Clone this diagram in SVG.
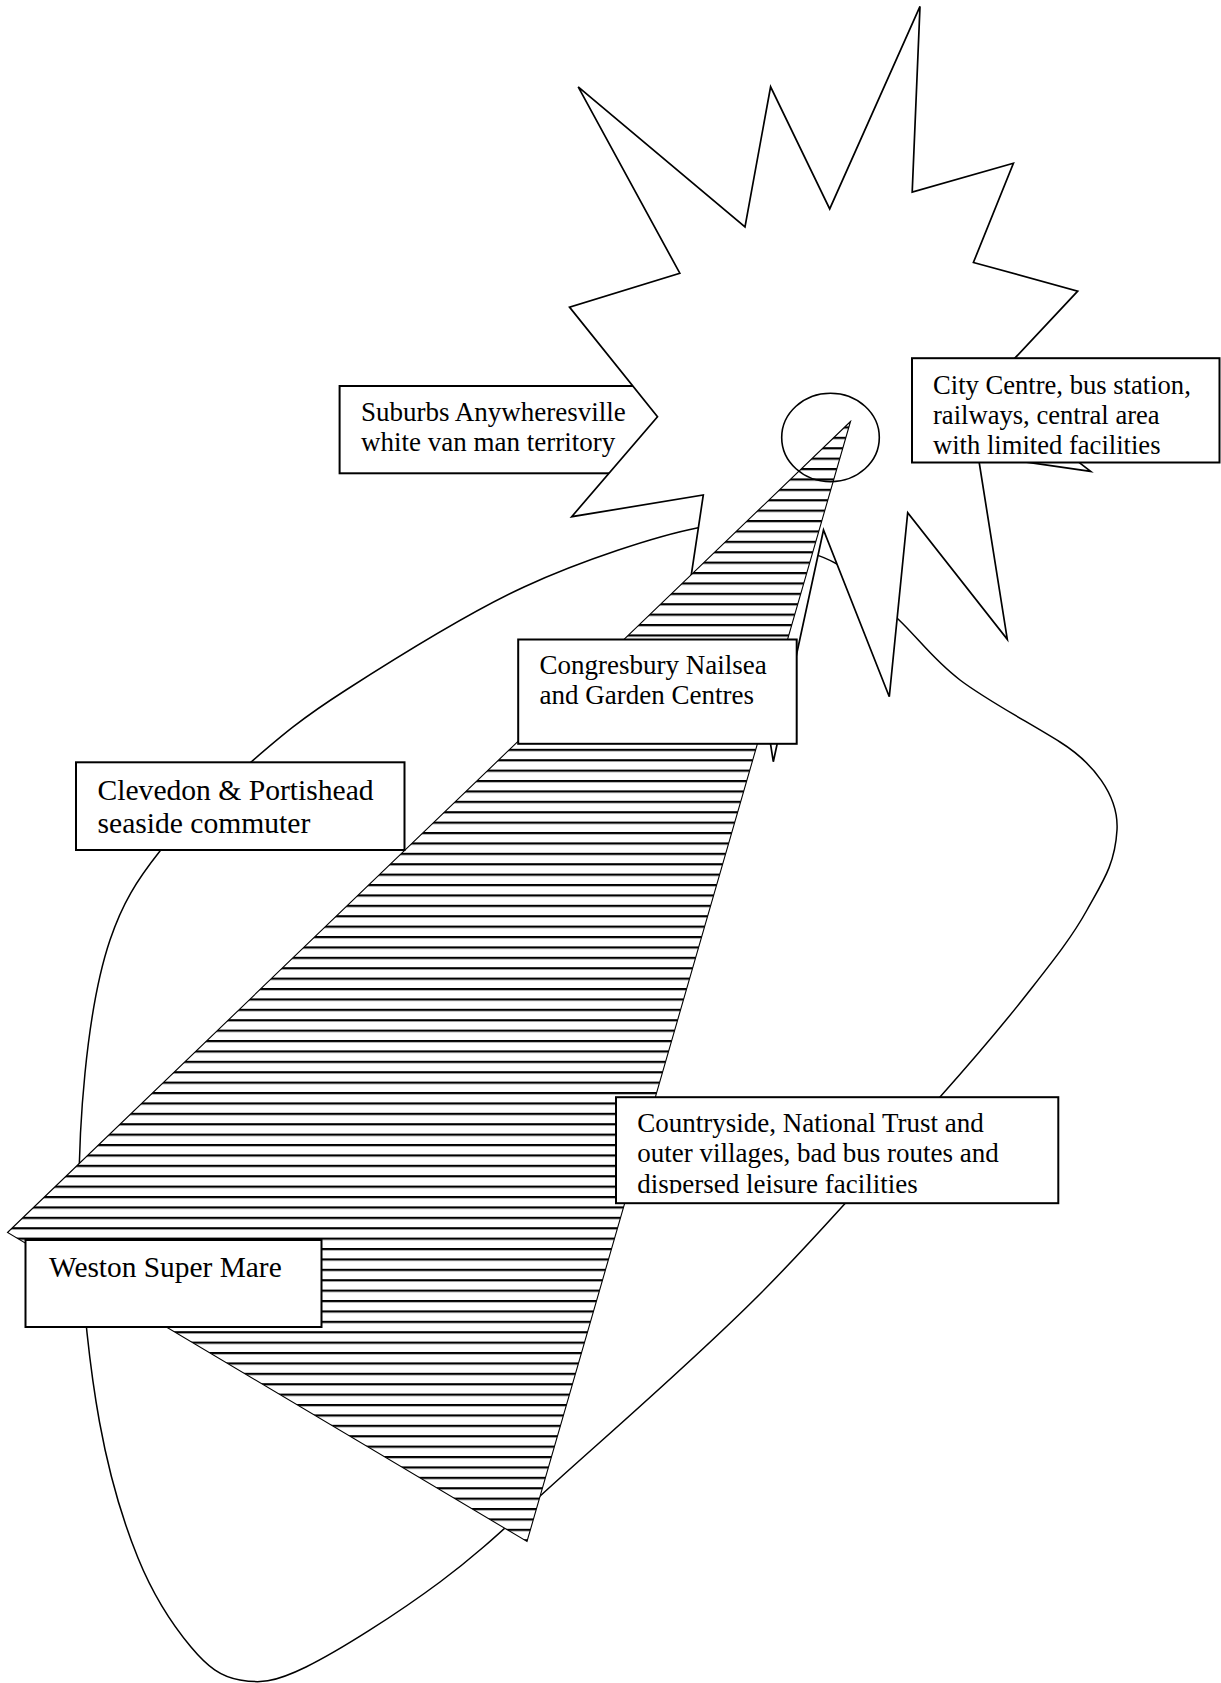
<svg xmlns="http://www.w3.org/2000/svg" width="1221" height="1683" viewBox="0 0 1221 1683">
  <defs>
    <style>
      .line { fill: none; stroke: #000; stroke-width: 1.5; stroke-linejoin: miter; }
      .box { fill: #fff; stroke: #000; stroke-width: 2; }
      .lbl { font-family: "Liberation Serif", "Times New Roman", serif; fill: #000; }
      .s27 { font-size: 27px; }
      .s30 { font-size: 29.6px; }
    </style>
    <pattern id="hatch" patternUnits="userSpaceOnUse" x="0" y="0" width="20" height="10.4">
      <rect x="0" y="0" width="20" height="10.4" fill="#fff"/>
      <line x1="0" y1="1.1" x2="20" y2="1.1" stroke="#000" stroke-width="2.2"/>
    </pattern>
    <clipPath id="clipCity">
      <rect x="912" y="358" width="308" height="97"/>
    </clipPath>
    <clipPath id="clipCountry">
      <rect x="616" y="1097" width="442" height="96.5"/>
    </clipPath>
  </defs>

  <rect x="0" y="0" width="1221" height="1683" fill="#fff"/>

  <!-- outer loop (drawn first, partly hidden by shapes above) -->
  <g id="outer-loop">
    <path class="line" d="M697,528 C657.7,535.8 582.5,560 524,587 C465.5,614 391.5,660.8 346,690 C300.5,719.2 282,735.2 251,762 C220,788.8 183.5,821.3 160,851 C136.5,880.7 122.5,903 110,940 C97.5,977 90,1023 85,1073 C80,1123 77.6,1181.8 80,1240 C82.4,1298.2 89.8,1369 99.5,1422 C109.2,1475 122.75,1520.5 138,1558 C153.25,1595.5 174,1626.7 191,1647 C208,1667.3 220.8,1676.7 240,1680 C259.2,1683.3 272.7,1683.3 306,1667 C339.3,1650.7 397.7,1613.5 440,1582 C482.3,1550.5 506.7,1526 560,1478 C613.3,1430 696.7,1357.5 760,1294 C823.3,1230.5 895.5,1147 940,1097 C984.5,1047 1002.5,1025.2 1027,994 C1051.5,962.8 1072,937.3 1087,910 C1102,882.7 1115,865 1117,830 C1119,795 1092,762 1060,742 C1028,722 987,700.5 960,680 C933,659.5 918.5,638.3 898,619 C877.5,599.7 860,577.2 837,564 C814,550.8 783.3,546 760,540 C736.7,534 736.3,520.2 697,528 Z"/>
  </g>

  <!-- Suburbs box (partly covered by the star) -->
  <g id="node-suburbs">
    <rect class="box" x="339.6" y="386" width="360" height="87.3"/>
    <text class="lbl s27" x="361" y="420.5">Suburbs Anywheresville</text>
    <text class="lbl s27" x="361" y="450.5">white van man territory</text>
  </g>

  <!-- star burst -->
  <g id="star">
    <polygon fill="#fff" stroke="#000" stroke-width="1.7" stroke-linejoin="miter" points="920,6.4 912.2,192.1 1013.4,163.2 973.4,262.5 1077.7,291.1 985,390 1090.7,471.4 978,455 1007.3,639.3 907.7,512.7 889.3,696.7 823.5,530 773.3,761.7 745,580 683,630 703.3,495 571.7,516.7 657.5,416.7 569.5,307.1 679.8,273.2 578.2,86.8 745,226.8 770.6,86.8 829.7,208.9"/>
  </g>

  <!-- hatched sector -->
  <g id="sector">
    <polygon fill="url(#hatch)" stroke="#000" stroke-width="1.1" points="850.5,421.5 7.5,1232.5 527,1541.5"/>
  </g>

  <!-- centre circle -->
  <g id="centre-circle">
    <ellipse cx="830.5" cy="437.5" rx="48.8" ry="44.2" fill="none" stroke="#000" stroke-width="1.6"/>
  </g>

  <g id="node-city-centre">
    <rect class="box" x="912" y="358.2" width="307.5" height="104.3"/>
    <g clip-path="url(#clipCity)">
      <text class="lbl s27" x="933" y="393.5" style="font-size:26.6px">City Centre, bus station,</text>
      <text class="lbl s27" x="933" y="423.5" style="font-size:26.6px">railways, central area</text>
      <text class="lbl s27" x="933" y="453.5" style="font-size:26.6px">with limited facilities</text>
    </g>
  </g>

  <g id="node-congresbury">
    <rect class="box" x="518.2" y="639.5" width="278.5" height="104.3"/>
    <text class="lbl s27" x="539.5" y="673.5">Congresbury Nailsea</text>
    <text class="lbl s27" x="539.5" y="704">and Garden Centres</text>
  </g>

  <g id="node-clevedon">
    <rect class="box" x="76" y="762.3" width="328.5" height="87.7"/>
    <text class="lbl s30" x="97.5" y="800">Clevedon &amp; Portishead</text>
    <text class="lbl s30" x="97.5" y="833.3">seaside commuter</text>
  </g>

  <g id="node-weston">
    <rect class="box" x="25.5" y="1240" width="296" height="87"/>
    <text class="lbl s30" x="49" y="1276.5" style="font-size:29.4px">Weston Super Mare</text>
  </g>

  <g id="node-countryside">
    <rect class="box" x="616" y="1097.2" width="442.3" height="106"/>
    <g clip-path="url(#clipCountry)">
      <text class="lbl s27" x="637.3" y="1131.7">Countryside, National Trust and</text>
      <text class="lbl s27" x="637.3" y="1162.3">outer villages, bad bus routes and</text>
      <text class="lbl s27" x="637.3" y="1192.8">dispersed leisure facilities</text>
    </g>
  </g>
</svg>
